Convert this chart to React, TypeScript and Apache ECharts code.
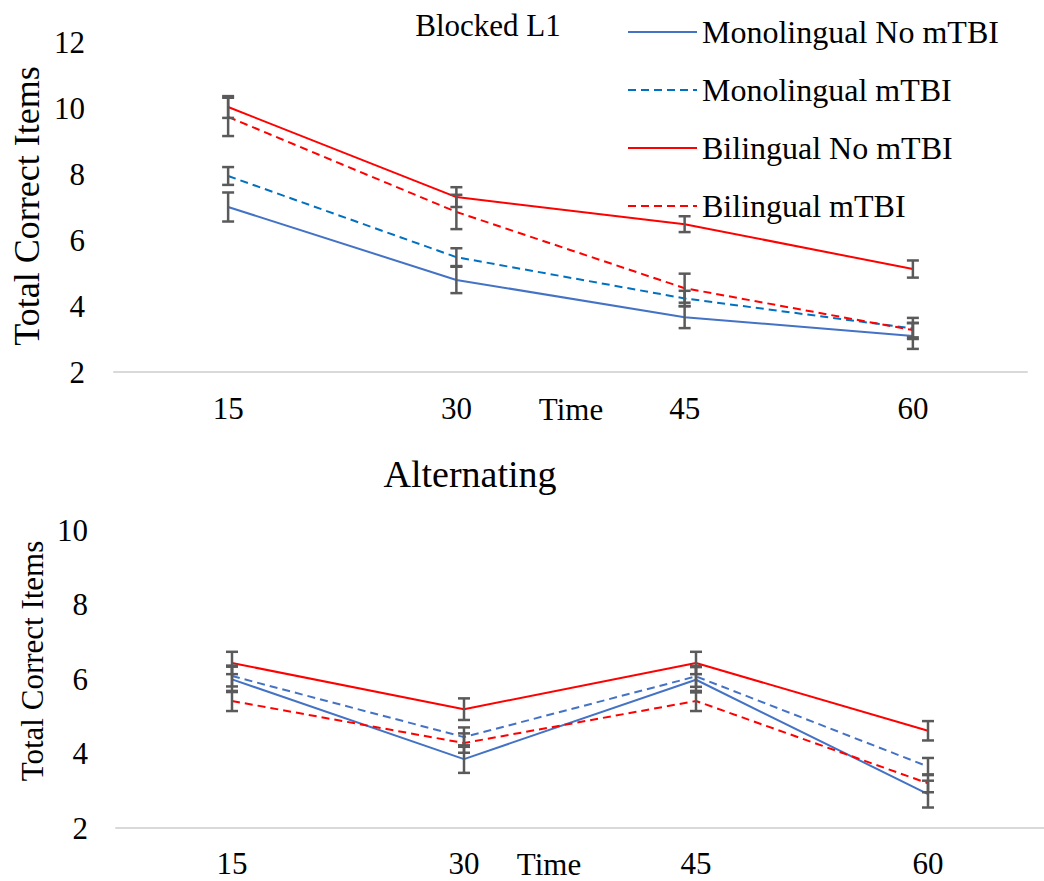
import React, { useEffect, useRef } from "react";
import * as echarts from "echarts";

const categories = ["15", "30", "45", "60"];
const seriesNames = ["Monolingual No mTBI", "Monolingual mTBI", "Bilingual No mTBI", "Bilingual mTBI"];

// Blocked L1 (top panel)
const blockedMonoNo = [7.0, 4.79, 3.66, 3.09];
const blockedMonoMt = [7.94, 5.48, 4.23, 3.32];
const blockedBiNo = [10.03, 7.3, 6.48, 5.12];
const blockedBiMt = [9.73, 6.85, 4.54, 3.27];
const blockedMonoNoErr = [0.44, 0.4, 0.33, 0.39];
const blockedMonoMtErr = [0.27, 0.27, 0.23, 0.32];
const blockedBiNoErr = [0.33, 0.3, 0.24, 0.26];
const blockedBiMtErr = [0.58, 0.52, 0.44, 0.22];

// Alternating (bottom panel)
const altMonoNo = [5.99, 3.85, 5.98, 2.91];
const altMonoMt = [6.08, 4.44, 6.07, 3.65];
const altBiNo = [6.43, 5.19, 6.43, 4.61];
const altBiMt = [5.41, 4.28, 5.41, 3.2];
const altMonoNoErr = [0.34, 0.37, 0.34, 0.36];
const altMonoMtErr = [0.28, 0.26, 0.28, 0.23];
const altBiNoErr = [0.3, 0.29, 0.3, 0.26];
const altBiMtErr = [0.27, 0.26, 0.27, 0.24];

const topTicks = { min: 2, max: 12, interval: 2 };
const bottomTicks = { min: 2, max: 10, interval: 2 };

const FONT = "'Liberation Serif', 'Times New Roman', serif";
const BLUE = "#4472C4";
const BLUE_DASH_TOP = "#0070C0";
const RED = "#FF0000";
const ERR = "#5A5A5A";

function errData(vals: number[], errs: number[]) {
  return vals.map((v, i) => [i, v - errs[i], v + errs[i]]);
}

function errSeries(idx: number, vals: number[], errs: number[]) {
  return {
    type: "custom",
    xAxisIndex: idx,
    yAxisIndex: idx,
    z: 5,
    silent: true,
    encode: { x: 0, y: [1, 2] },
    data: errData(vals, errs),
    renderItem: (params: any, api: any) => {
      const lo = api.coord([api.value(0), api.value(1)]);
      const hi = api.coord([api.value(0), api.value(2)]);
      const hw = 6;
      const st = { stroke: ERR, lineWidth: 2.5 };
      return {
        type: "group",
        children: [
          { type: "line", shape: { x1: lo[0], y1: lo[1], x2: hi[0], y2: hi[1] }, style: st },
          { type: "line", shape: { x1: lo[0] - hw, y1: lo[1], x2: lo[0] + hw, y2: lo[1] }, style: st },
          { type: "line", shape: { x1: hi[0] - hw, y1: hi[1], x2: hi[0] + hw, y2: hi[1] }, style: st },
        ],
      };
    },
  };
}

function lineSeries(idx: number, name: string, data: number[], color: string, dashed: boolean) {
  return {
    type: "line",
    name,
    xAxisIndex: idx,
    yAxisIndex: idx,
    data,
    symbol: "none",
    z: 3,
    lineStyle: { color, width: 2, type: dashed ? [8, 5] : "solid" },
    itemStyle: { color },
  };
}

export default function App() {
  const ref = useRef<HTMLDivElement>(null);
  useEffect(() => {
    if (!ref.current) return;
    const chart = echarts.init(ref.current, null, { renderer: "svg" });
    const axisLabel = { fontFamily: FONT, fontSize: 31, color: "#000", lineHeight: 28 };
    const xAxisBase = {
      type: "category",
      data: categories,
      boundaryGap: true,
      axisLine: { show: true, lineStyle: { color: "#D9D9D9", width: 2 } },
      axisTick: { show: false },
      splitLine: { show: false },
    };
    const yAxisBase = {
      type: "value",
      axisLine: { show: false },
      axisTick: { show: false },
      splitLine: { show: false },
    };
    const titleText = (text: string, x: number, y: number, size: number, rot = 0) => ({
      type: "text",
      x,
      y,
      rotation: rot,
      style: {
        text,
        fontFamily: FONT,
        fontSize: size,
        lineHeight: size - 3,
        fill: "#000",
        textAlign: "center",
        textVerticalAlign: "middle",
      },
    });
    chart.setOption({
      animation: false,
      backgroundColor: "#fff",
      grid: [
        { left: 114, top: 42, width: 913, height: 330 },
        { left: 116, top: 530, width: 936, height: 298 },
      ],
      xAxis: [
        { ...xAxisBase, gridIndex: 0, axisLabel: { ...axisLabel, margin: 22 } },
        { ...xAxisBase, gridIndex: 1, axisLabel: { ...axisLabel, margin: 21 } },
      ],
      yAxis: [
        { ...yAxisBase, gridIndex: 0, ...topTicks, axisLabel: { ...axisLabel, margin: 29 } },
        { ...yAxisBase, gridIndex: 1, ...bottomTicks, axisLabel: { ...axisLabel, margin: 28 } },
      ],
      legend: {
        data: seriesNames,
        orient: "vertical",
        left: 627,
        top: 15,
        padding: 0,
        itemWidth: 69,
        itemHeight: 14,
        itemGap: 24,
        itemStyle: { opacity: 0 },
        textStyle: { fontFamily: FONT, fontSize: 32, color: "#000", lineHeight: 34 },
      },
      graphic: [
        titleText("Blocked L1", 488, 25, 31),
        titleText("Alternating", 470, 474, 38),
        titleText("Total Correct Items", 27, 206, 36, Math.PI / 2),
        titleText("Total Correct Items", 32, 661, 31, Math.PI / 2),
        titleText("Time", 571, 409, 31),
        titleText("Time", 549, 864, 31),
      ],
      series: [
        lineSeries(0, seriesNames[0], blockedMonoNo, BLUE, false),
        lineSeries(0, seriesNames[1], blockedMonoMt, BLUE_DASH_TOP, true),
        lineSeries(0, seriesNames[2], blockedBiNo, RED, false),
        lineSeries(0, seriesNames[3], blockedBiMt, RED, true),
        errSeries(0, blockedMonoNo, blockedMonoNoErr),
        errSeries(0, blockedMonoMt, blockedMonoMtErr),
        errSeries(0, blockedBiNo, blockedBiNoErr),
        errSeries(0, blockedBiMt, blockedBiMtErr),
        lineSeries(1, "alt-" + seriesNames[0], altMonoNo, BLUE, false),
        lineSeries(1, "alt-" + seriesNames[1], altMonoMt, BLUE, true),
        lineSeries(1, "alt-" + seriesNames[2], altBiNo, RED, false),
        lineSeries(1, "alt-" + seriesNames[3], altBiMt, RED, true),
        errSeries(1, altMonoNo, altMonoNoErr),
        errSeries(1, altMonoMt, altMonoMtErr),
        errSeries(1, altBiNo, altBiNoErr),
        errSeries(1, altBiMt, altBiMtErr),
      ],
    });
    return () => chart.dispose();
  }, []);
  return (
    <div
      ref={ref}
      style={{ position: "fixed", left: 0, top: 0, width: 1044, height: 881 }}
    />
  );
}
